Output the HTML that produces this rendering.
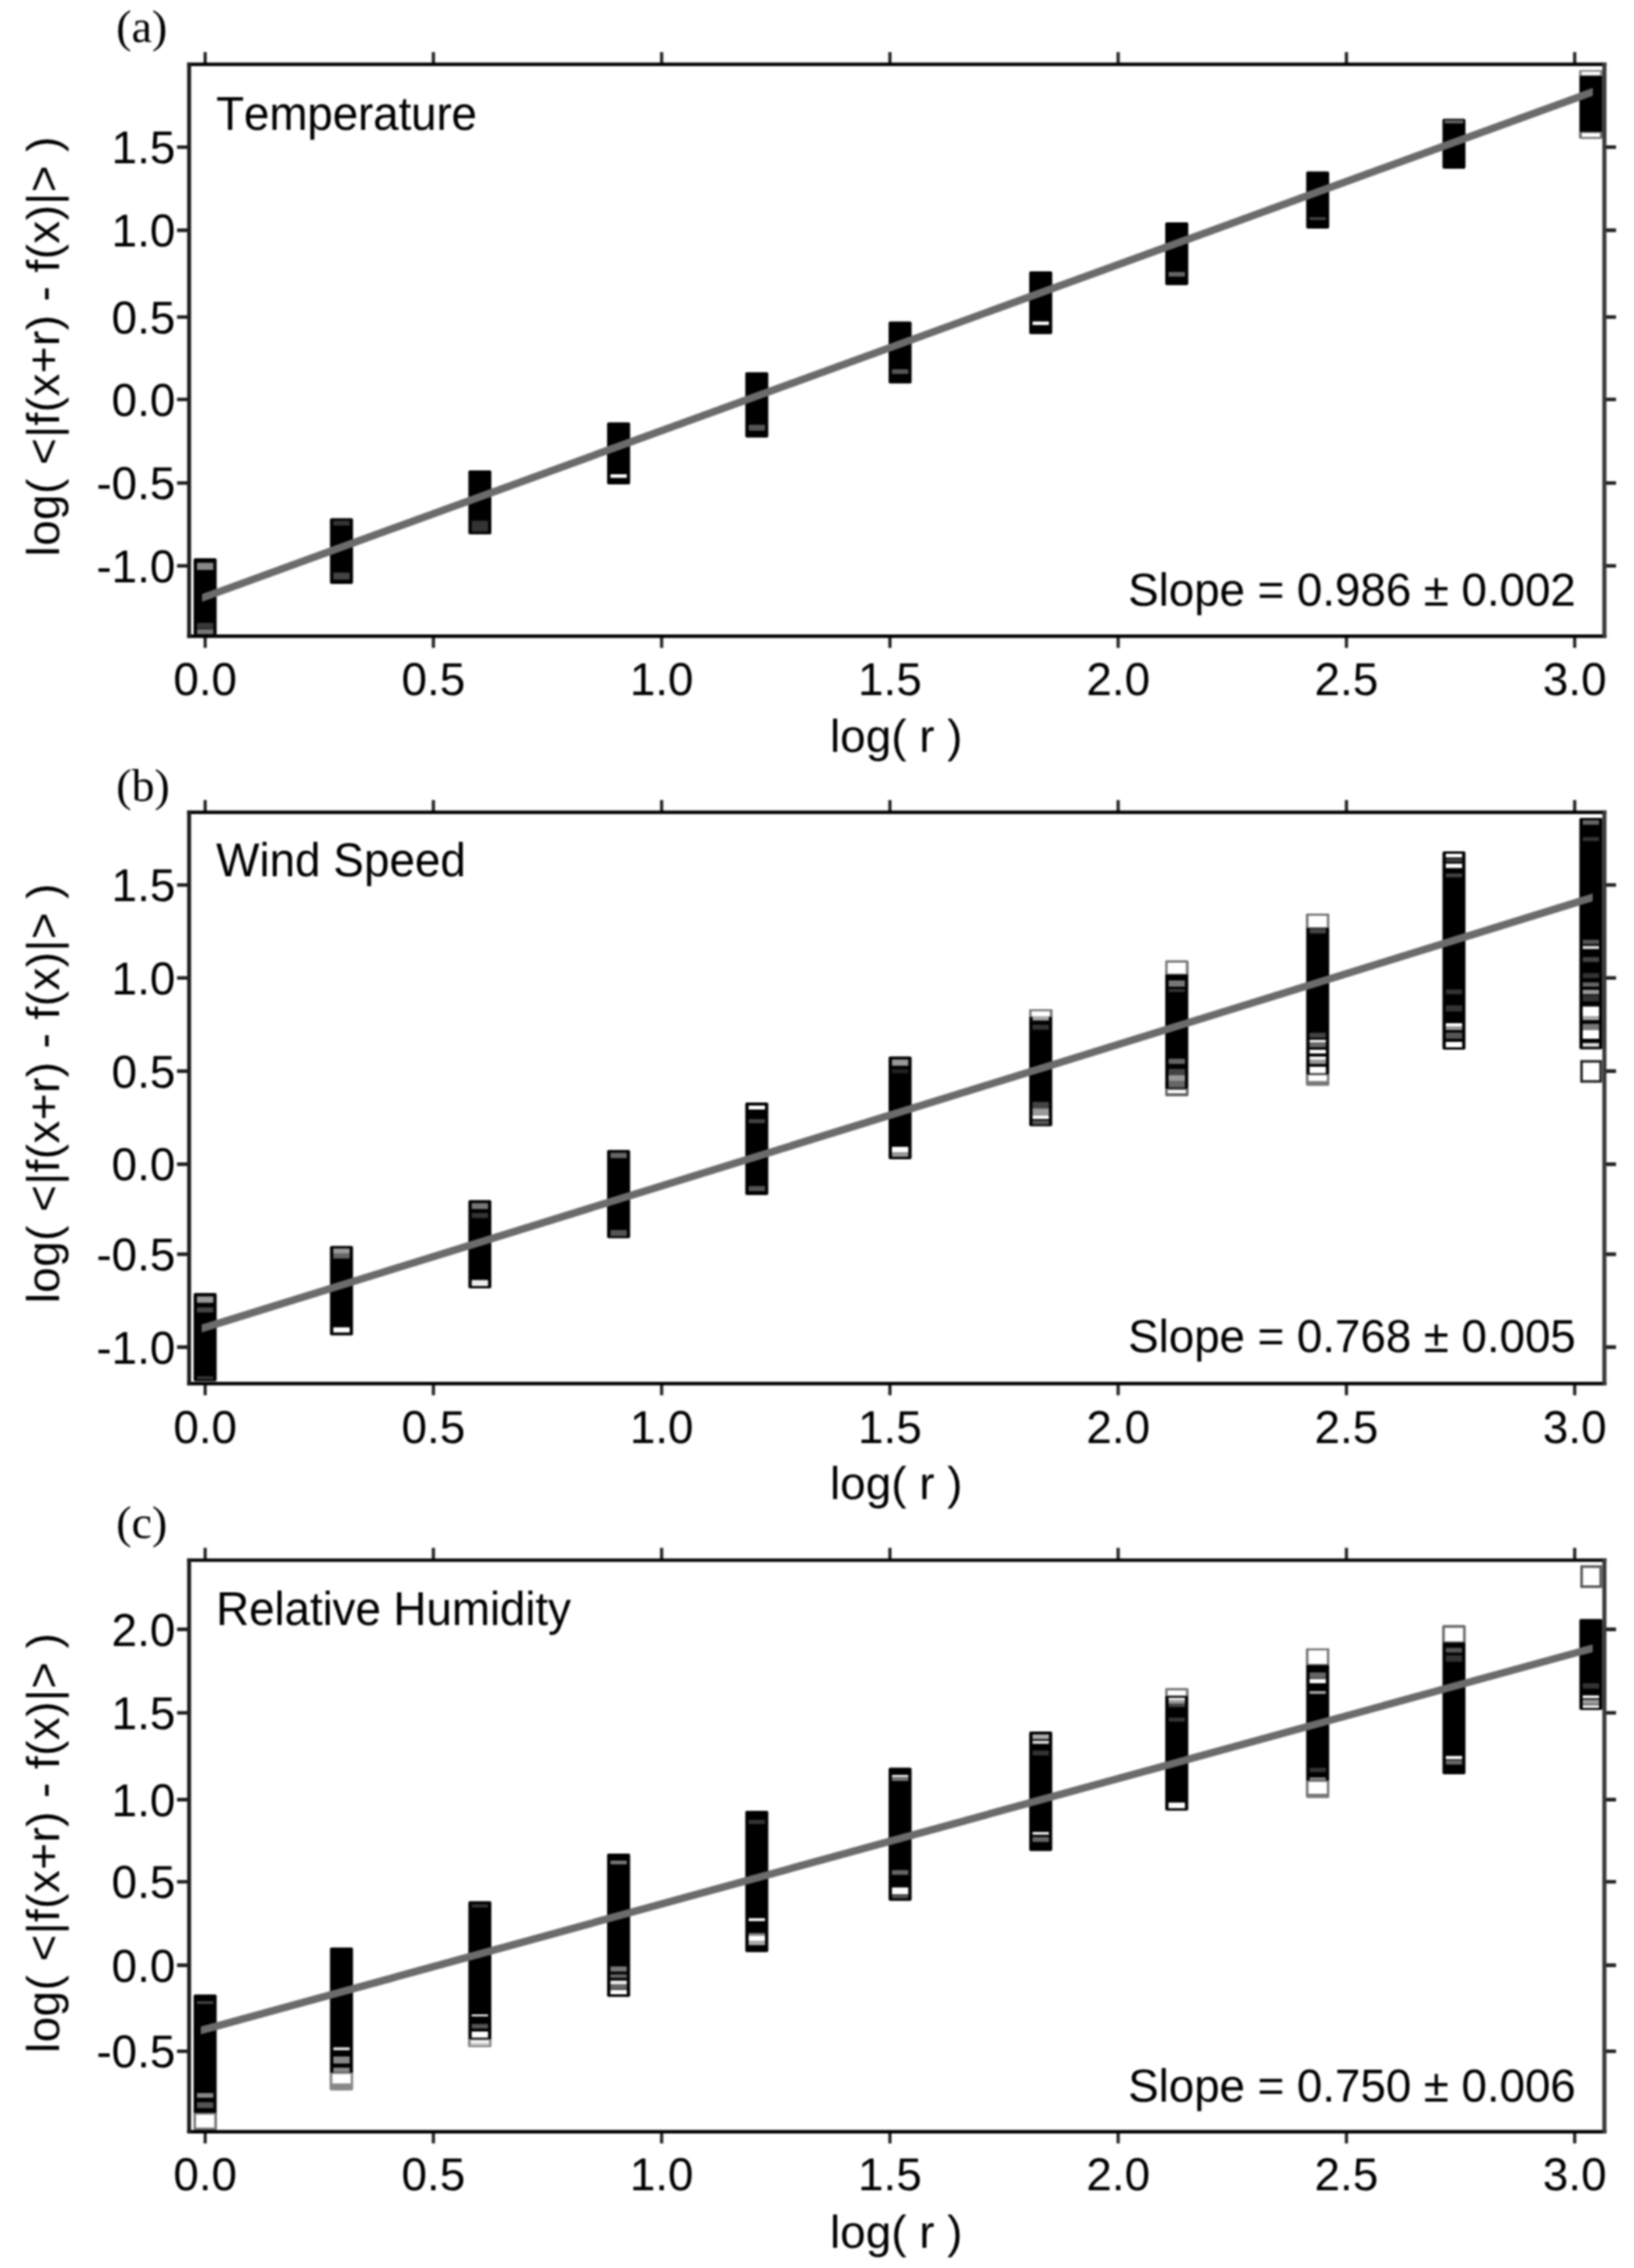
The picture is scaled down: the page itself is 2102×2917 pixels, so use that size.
<!DOCTYPE html>
<html lang="en"><head><meta charset="utf-8"><title>Structure functions: temperature, wind speed, relative humidity</title>
<style>
html,body{margin:0;padding:0;background:#fff;}
body{width:2102px;height:2917px;overflow:hidden;}
svg{display:block;filter:blur(0.9px);}
text{font-kerning:none;font-variant-ligatures:none;text-rendering:geometricPrecision;}
.s{font-family:"Liberation Sans", Arial, Helvetica, sans-serif;font-size:59px;fill:#000;}
.t{font-family:"Liberation Serif", "Times New Roman", Times, serif;font-size:59px;fill:#000;}
.tk{stroke:#262626;stroke-width:4.2;fill:none;}
.fr{stroke:#000;stroke-width:4.4;fill:none;stroke-linejoin:miter;}
.frl{stroke:#1c1c1c;stroke-width:5.1;fill:none;}
.frr{stroke:#363636;stroke-width:5.2;fill:none;}
.th{stroke:#1e1e1e;stroke-width:4.6;fill:none;}
.fit{fill:#6b6b6b;stroke:none;}
.c{fill:#000;}
</style></head><body>
<svg width="2102" height="2917" viewBox="0 0 2102 2917">
<rect width="2102" height="2917" fill="#fff"/>
<g>
<text class="t" x="149.6" y="54">(a)</text>
<g>
<rect class="c" x="249.1" y="718" width="29.6" height="98.4" rx="2"/>
<rect x="253.4" y="723.8" width="21" height="9.2" fill="#888"/>
<rect x="253.4" y="801" width="21" height="7.5" fill="#383838"/>
<rect x="253.4" y="809.3" width="21" height="6.3" fill="#777"/>
<rect class="c" x="424.5" y="666.6" width="29.6" height="84.4" rx="2"/>
<rect x="428.8" y="669.7" width="21" height="6.3" fill="#333"/>
<rect x="428.8" y="736.5" width="21" height="9" fill="#444"/>
<rect class="c" x="602.5" y="605" width="29.6" height="82.2" rx="2"/>
<rect x="606.8" y="669.7" width="21" height="14.1" fill="#333"/>
<rect class="c" x="781" y="543.2" width="29.6" height="79.8" rx="2"/>
<rect x="785.3" y="610" width="21" height="4.6" fill="#fff"/>
<rect class="c" x="958.75" y="478.8" width="29.6" height="84" rx="2"/>
<rect x="963.05" y="546.3" width="21" height="7.6" fill="#555"/>
<rect class="c" x="1143.1" y="413.5" width="29.6" height="79.7" rx="2"/>
<rect x="1147.4" y="474.9" width="21" height="6.1" fill="#555"/>
<rect class="c" x="1324" y="349" width="29.6" height="80.8" rx="2"/>
<rect x="1328.3" y="413.5" width="21" height="4.5" fill="#fff"/>
<rect class="c" x="1499" y="286" width="29.6" height="80.7" rx="2"/>
<rect x="1503.3" y="349.8" width="21" height="5.9" fill="#666"/>
<rect class="c" x="1680.3" y="220.6" width="29.6" height="73.4" rx="2"/>
<rect x="1684.6" y="279.3" width="21" height="3.7" fill="#444"/>
<rect class="c" x="1855.6" y="152.8" width="29.6" height="64.1" rx="2"/>
<rect x="1858.4" y="154.6" width="24" height="4" fill="#666"/>
<rect class="c" x="2031.7" y="90" width="29.6" height="88.2" rx="2"/>
<rect x="2031.7" y="90" width="29.6" height="7.6" fill="#888"/>
<rect x="2034.7" y="92.4" width="23.6" height="4.2" fill="#fff"/>
<rect x="2031.7" y="169.4" width="29.6" height="8.8" fill="#666"/>
<rect x="2034.7" y="171" width="23.6" height="5.2" fill="#fff"/>
</g>
<polygon class="fit" points="260,763.89 2049,113.09 2049,123.31 260,774.11"/>
<path class="tk" d="M263.9 67V82.8M263.9 818.3V833.3M557.53 67V82.8M557.53 818.3V833.3M851.17 67V82.8M851.17 818.3V833.3M1144.8 67V82.8M1144.8 818.3V833.3M1438.44 67V82.8M1438.44 818.3V833.3M1732.07 67V82.8M1732.07 818.3V833.3M2025.71 67V82.8M2025.71 818.3V833.3"/>
<path class="th" d="M227.8 189.3H243.3M2063.9 189.3H2078.9M227.8 296.1H243.3M2063.9 296.1H2078.9M227.8 407.7H243.3M2063.9 407.7H2078.9M227.8 513.8H243.3M2063.9 513.8H2078.9M227.8 621.3H243.3M2063.9 621.3H2078.9M227.8 727.7H243.3M2063.9 727.7H2078.9"/>
<path class="fr" d="M240.8 82.8H2066.4M240.8 818.3H2066.4"/>
<path class="frl" d="M243.3 80.7V820.4"/>
<path class="frr" d="M2063.9 80.7V820.4"/>
<text class="s" text-anchor="end" transform="translate(225.6 210.2) scale(1 1.005)">1.5</text>
<text class="s" text-anchor="end" transform="translate(225.6 317) scale(1 1.005)">1.0</text>
<text class="s" text-anchor="end" transform="translate(225.6 428.6) scale(1 1.005)">0.5</text>
<text class="s" text-anchor="end" transform="translate(225.6 534.7) scale(1 1.005)">0.0</text>
<text class="s" text-anchor="end" transform="translate(225.6 642.2) scale(1 1.005)">-0.5</text>
<text class="s" text-anchor="end" transform="translate(225.6 748.6) scale(1 1.005)">-1.0</text>
<text class="s" text-anchor="middle" transform="translate(263.9 893.7) scale(1 1.005)">0.0</text>
<text class="s" text-anchor="middle" transform="translate(557.53 893.7) scale(1 1.005)">0.5</text>
<text class="s" text-anchor="middle" transform="translate(851.17 893.7) scale(1 1.005)">1.0</text>
<text class="s" text-anchor="middle" transform="translate(1144.8 893.7) scale(1 1.005)">1.5</text>
<text class="s" text-anchor="middle" transform="translate(1438.44 893.7) scale(1 1.005)">2.0</text>
<text class="s" text-anchor="middle" transform="translate(1732.07 893.7) scale(1 1.005)">2.5</text>
<text class="s" text-anchor="middle" transform="translate(2025.71 893.7) scale(1 1.005)">3.0</text>
<text class="s" text-anchor="middle" x="1153" y="967">log( r )</text>
<text class="s" transform="translate(76.3 715.65) rotate(-90)" textLength="540" lengthAdjust="spacing">log( &lt;|f(x+r) - f(x)|&gt; )</text>
<text class="s" transform="translate(278 166.7) scale(1 1.037)" textLength="335.7" lengthAdjust="spacing">Temperature</text>
<text class="s" text-anchor="end" transform="translate(2027.2 778.7) scale(1 1.01)" textLength="575.9" lengthAdjust="spacing">Slope = 0.986 ± 0.002</text>
</g>
<g>
<text class="t" x="149.6" y="1029.5">(b)</text>
<g>
<rect class="c" x="249.1" y="1663" width="29.6" height="113.5" rx="2"/>
<rect x="253.4" y="1667.4" width="21" height="8.2" fill="#999"/>
<rect x="253.4" y="1681.5" width="21" height="6.5" fill="#444"/>
<rect x="253.4" y="1770" width="21" height="4" fill="#333"/>
<rect class="c" x="424.5" y="1602.6" width="29.6" height="114.9" rx="2"/>
<rect x="428.8" y="1605.7" width="21" height="6.3" fill="#999"/>
<rect x="428.8" y="1612" width="21" height="6.6" fill="#666"/>
<rect x="428.8" y="1707.2" width="21" height="6.5" fill="#fff"/>
<rect class="c" x="602.5" y="1543.6" width="29.6" height="113.4" rx="2"/>
<rect x="606.8" y="1547.4" width="21" height="7.6" fill="#777"/>
<rect x="606.8" y="1560" width="21" height="6.6" fill="#333"/>
<rect x="606.8" y="1646.3" width="21" height="7.7" fill="#eee"/>
<rect class="c" x="781" y="1479" width="29.6" height="113.6" rx="2"/>
<rect x="785.3" y="1482.6" width="21" height="6.9" fill="#666"/>
<rect x="785.3" y="1582" width="21" height="7.8" fill="#555"/>
<rect class="c" x="958.75" y="1418" width="29.6" height="119" rx="2"/>
<rect x="963.05" y="1421.9" width="21" height="5.1" fill="#fff"/>
<rect x="963.05" y="1439.4" width="21" height="5.1" fill="#444"/>
<rect x="963.05" y="1525.5" width="21" height="6.5" fill="#555"/>
<rect class="c" x="1143.1" y="1358.7" width="29.6" height="132.3" rx="2"/>
<rect x="1147.4" y="1362.6" width="21" height="8.1" fill="#999"/>
<rect x="1147.4" y="1375" width="21" height="5.4" fill="#222"/>
<rect x="1147.4" y="1475" width="21" height="7.3" fill="#fff"/>
<rect x="1147.4" y="1482.3" width="21" height="5.5" fill="#999"/>
<rect class="c" x="1324" y="1298" width="29.6" height="150.4" rx="2"/>
<rect x="1324" y="1298" width="29.6" height="10" fill="#777"/>
<rect x="1327" y="1300.6" width="23.6" height="6.4" fill="#fff"/>
<rect x="1328.3" y="1307" width="21" height="5.5" fill="#aaa"/>
<rect x="1328.3" y="1318" width="21" height="6.4" fill="#333"/>
<rect x="1328.3" y="1417.2" width="21" height="8.3" fill="#444"/>
<rect x="1328.3" y="1425.5" width="21" height="9.1" fill="#999"/>
<rect x="1328.3" y="1434.6" width="21" height="4.6" fill="#fff"/>
<rect x="1328.3" y="1441" width="21" height="5.5" fill="#555"/>
<rect class="c" x="1499" y="1235.6" width="29.6" height="174.2" rx="2"/>
<rect x="1499" y="1235.6" width="29.6" height="17.8" fill="#777"/>
<rect x="1502" y="1238.2" width="23.6" height="14.2" fill="#fff"/>
<rect x="1499" y="1400" width="29.6" height="9.8" fill="#666"/>
<rect x="1502" y="1402" width="23.6" height="4" fill="#fff"/>
<rect x="1503.3" y="1261" width="21" height="8" fill="#777"/>
<rect x="1503.3" y="1272" width="21" height="4" fill="#333"/>
<rect x="1503.3" y="1361.7" width="21" height="6.7" fill="#666"/>
<rect x="1503.3" y="1374.8" width="21" height="8" fill="#444"/>
<rect x="1503.3" y="1382.8" width="21" height="7.9" fill="#999"/>
<rect x="1503.3" y="1390.7" width="21" height="8" fill="#666"/>
<rect class="c" x="1680.3" y="1175.1" width="29.6" height="221.2" rx="2"/>
<rect x="1680.3" y="1175.1" width="29.6" height="18.3" fill="#777"/>
<rect x="1683.3" y="1177.8" width="23.6" height="14.8" fill="#fff"/>
<rect x="1680.3" y="1381.6" width="29.6" height="14.7" fill="#777"/>
<rect x="1683.3" y="1383" width="23.6" height="7.4" fill="#fff"/>
<rect x="1684.6" y="1194.2" width="21" height="6.4" fill="#444"/>
<rect x="1684.6" y="1328.3" width="21" height="6.4" fill="#444"/>
<rect x="1684.6" y="1337.4" width="21" height="3.2" fill="#fff"/>
<rect x="1684.6" y="1341" width="21" height="6" fill="#666"/>
<rect x="1684.6" y="1350.1" width="21" height="4.8" fill="#fff"/>
<rect x="1684.6" y="1358.9" width="21" height="4" fill="#fff"/>
<rect x="1684.6" y="1362.9" width="21" height="5.5" fill="#999"/>
<rect x="1684.6" y="1372" width="21" height="8.4" fill="#fff"/>
<rect class="c" x="1855.6" y="1094.9" width="29.6" height="255.1" rx="2"/>
<rect x="1859.9" y="1098" width="21" height="4.8" fill="#fff"/>
<rect x="1859.9" y="1104.4" width="21" height="4" fill="#444"/>
<rect x="1859.9" y="1110.8" width="21" height="5.6" fill="#fff"/>
<rect x="1859.9" y="1123.5" width="21" height="4.8" fill="#444"/>
<rect x="1859.9" y="1272.6" width="21" height="6.1" fill="#333"/>
<rect x="1859.9" y="1293" width="21" height="8" fill="#333"/>
<rect x="1859.9" y="1316" width="21" height="4" fill="#fff"/>
<rect x="1859.9" y="1320" width="21" height="4.8" fill="#999"/>
<rect x="1859.9" y="1328" width="21" height="8" fill="#555"/>
<rect x="1859.9" y="1340" width="21" height="7" fill="#fff"/>
<rect class="c" x="2031.7" y="1052" width="29.6" height="297.5" rx="2"/>
<rect x="2036" y="1055" width="21" height="5.7" fill="#666"/>
<rect x="2036" y="1076.6" width="21" height="5.1" fill="#333"/>
<rect x="2036" y="1208.7" width="21" height="5.5" fill="#555"/>
<rect x="2036" y="1216.6" width="21" height="4" fill="#ddd"/>
<rect x="2036" y="1231" width="21" height="6.3" fill="#444"/>
<rect x="2036" y="1251.6" width="21" height="6.4" fill="#333"/>
<rect x="2036" y="1263.5" width="21" height="5.5" fill="#666"/>
<rect x="2036" y="1273" width="21" height="5.7" fill="#999"/>
<rect x="2036" y="1280" width="21" height="8" fill="#333"/>
<rect x="2036" y="1294.6" width="21" height="12.7" fill="#fff"/>
<rect x="2036" y="1307.3" width="21" height="4.7" fill="#aaa"/>
<rect x="2036" y="1316.8" width="21" height="8" fill="#777"/>
<rect x="2036" y="1324.8" width="21" height="11.2" fill="#fff"/>
<rect x="2036" y="1341.5" width="21" height="4.8" fill="#ddd"/>
<rect x="2034.5" y="1365.1" width="24.6" height="25.8" fill="#fff" stroke="#222" stroke-width="3.3"/>
</g>
<polygon class="fit" points="259.5,1703.57 2048.8,1149.17 2048.8,1159.23 259.5,1713.63"/>
<path class="tk" d="M263.9 1028.9V1044.7M263.9 1779.5V1794.5M557.53 1028.9V1044.7M557.53 1779.5V1794.5M851.17 1028.9V1044.7M851.17 1779.5V1794.5M1144.8 1028.9V1044.7M1144.8 1779.5V1794.5M1438.44 1028.9V1044.7M1438.44 1779.5V1794.5M1732.07 1028.9V1044.7M1732.07 1779.5V1794.5M2025.71 1028.9V1044.7M2025.71 1779.5V1794.5"/>
<path class="th" d="M227.8 1138.2H243.3M2063.9 1138.2H2078.9M227.8 1257.8H243.3M2063.9 1257.8H2078.9M227.8 1377.6H243.3M2063.9 1377.6H2078.9M227.8 1497.4H243.3M2063.9 1497.4H2078.9M227.8 1613.1H243.3M2063.9 1613.1H2078.9M227.8 1732.65H243.3M2063.9 1732.65H2078.9"/>
<path class="fr" d="M240.8 1044.7H2066.4M240.8 1779.5H2066.4"/>
<path class="frl" d="M243.3 1042.6V1781.6"/>
<path class="frr" d="M2063.9 1042.6V1781.6"/>
<text class="s" text-anchor="end" transform="translate(225.6 1159.1) scale(1 1.005)">1.5</text>
<text class="s" text-anchor="end" transform="translate(225.6 1278.7) scale(1 1.005)">1.0</text>
<text class="s" text-anchor="end" transform="translate(225.6 1398.5) scale(1 1.005)">0.5</text>
<text class="s" text-anchor="end" transform="translate(225.6 1518.3) scale(1 1.005)">0.0</text>
<text class="s" text-anchor="end" transform="translate(225.6 1634) scale(1 1.005)">-0.5</text>
<text class="s" text-anchor="end" transform="translate(225.6 1753.55) scale(1 1.005)">-1.0</text>
<text class="s" text-anchor="middle" transform="translate(263.9 1856.3) scale(1 1.005)">0.0</text>
<text class="s" text-anchor="middle" transform="translate(557.53 1856.3) scale(1 1.005)">0.5</text>
<text class="s" text-anchor="middle" transform="translate(851.17 1856.3) scale(1 1.005)">1.0</text>
<text class="s" text-anchor="middle" transform="translate(1144.8 1856.3) scale(1 1.005)">1.5</text>
<text class="s" text-anchor="middle" transform="translate(1438.44 1856.3) scale(1 1.005)">2.0</text>
<text class="s" text-anchor="middle" transform="translate(1732.07 1856.3) scale(1 1.005)">2.5</text>
<text class="s" text-anchor="middle" transform="translate(2025.71 1856.3) scale(1 1.005)">3.0</text>
<text class="s" text-anchor="middle" x="1153" y="1927.6">log( r )</text>
<text class="s" transform="translate(76.3 1676.35) rotate(-90)" textLength="540" lengthAdjust="spacing">log( &lt;|f(x+r) - f(x)|&gt; )</text>
<text class="s" transform="translate(278 1126.8) scale(1 1.037)">Wind Speed</text>
<text class="s" text-anchor="end" transform="translate(2027.2 1738.6) scale(1 1.01)" textLength="575.9" lengthAdjust="spacing">Slope = 0.768 ± 0.005</text>
</g>
<g>
<text class="t" x="149.6" y="1977.8">(c)</text>
<g>
<rect class="c" x="249.1" y="2565.2" width="29.6" height="174.5" rx="2"/>
<rect x="253.4" y="2574" width="21" height="3.4" fill="#444"/>
<rect x="253.4" y="2692" width="21" height="6" fill="#888"/>
<rect x="253.4" y="2703.8" width="21" height="7.4" fill="#555"/>
<rect x="249.1" y="2717.4" width="29.6" height="22.3" fill="#777"/>
<rect x="252.1" y="2719.6" width="23.6" height="16.8" fill="#fff"/>
<rect class="c" x="424.5" y="2504.8" width="29.6" height="183.5" rx="2"/>
<rect x="428.8" y="2633.2" width="21" height="3.8" fill="#ddd"/>
<rect x="428.8" y="2645" width="21" height="9" fill="#888"/>
<rect x="428.8" y="2659.3" width="21" height="6.2" fill="#888"/>
<rect x="424.5" y="2665.8" width="29.6" height="22.5" fill="#888"/>
<rect x="427.5" y="2667.4" width="23.6" height="12.2" fill="#fff"/>
<rect class="c" x="602.5" y="2445.2" width="29.6" height="187.8" rx="2"/>
<rect x="606.8" y="2449.2" width="21" height="4.1" fill="#333"/>
<rect x="606.8" y="2590.9" width="21" height="2.4" fill="#fff"/>
<rect x="606.8" y="2603.1" width="21" height="5.9" fill="#555"/>
<rect x="606.8" y="2612.9" width="21" height="7.8" fill="#fff"/>
<rect x="602.5" y="2622.6" width="29.6" height="10.4" fill="#888"/>
<rect x="605.5" y="2624.4" width="23.6" height="3.4" fill="#fff"/>
<rect x="605.5" y="2627.8" width="23.6" height="2.8" fill="#ccc"/>
<rect class="c" x="781" y="2384" width="29.6" height="184.3" rx="2"/>
<rect x="785.3" y="2393" width="21" height="4.8" fill="#777"/>
<rect x="785.3" y="2529.2" width="21" height="6.5" fill="#777"/>
<rect x="785.3" y="2539.3" width="21" height="4.5" fill="#666"/>
<rect x="785.3" y="2547.4" width="21" height="4.6" fill="#eee"/>
<rect x="785.3" y="2552" width="21" height="6.5" fill="#666"/>
<rect x="785.3" y="2559.3" width="21" height="5.7" fill="#fff"/>
<rect class="c" x="958.75" y="2328.9" width="29.6" height="181.9" rx="2"/>
<rect x="963.05" y="2340.6" width="21" height="5.4" fill="#333"/>
<rect x="963.05" y="2467.2" width="21" height="3.6" fill="#fff"/>
<rect x="963.05" y="2486.3" width="21" height="3.3" fill="#888"/>
<rect x="963.05" y="2489.6" width="21" height="6.4" fill="#fff"/>
<rect x="963.05" y="2496" width="21" height="5.8" fill="#aaa"/>
<rect class="c" x="1143.1" y="2273.4" width="29.6" height="171.3" rx="2"/>
<rect x="1147.4" y="2282.9" width="21" height="2.7" fill="#fff"/>
<rect x="1147.4" y="2285.6" width="21" height="4.9" fill="#777"/>
<rect x="1147.4" y="2405.2" width="21" height="6.1" fill="#666"/>
<rect x="1147.4" y="2427.6" width="21" height="8.9" fill="#fff"/>
<rect x="1147.4" y="2437.4" width="21" height="4" fill="#555"/>
<rect class="c" x="1324" y="2227.1" width="29.6" height="153.6" rx="2"/>
<rect x="1328.3" y="2230.7" width="21" height="6" fill="#aaa"/>
<rect x="1328.3" y="2238.8" width="21" height="4" fill="#ddd"/>
<rect x="1328.3" y="2251.5" width="21" height="6.3" fill="#333"/>
<rect x="1328.3" y="2356.3" width="21" height="3.3" fill="#fff"/>
<rect x="1328.3" y="2362.7" width="21" height="6.3" fill="#666"/>
<rect class="c" x="1499" y="2171.4" width="29.6" height="157.3" rx="2"/>
<rect x="1499" y="2171.4" width="29.6" height="10" fill="#777"/>
<rect x="1502" y="2174.2" width="23.6" height="6.4" fill="#fff"/>
<rect x="1503.3" y="2183.7" width="21" height="3.1" fill="#fff"/>
<rect x="1503.3" y="2186.8" width="21" height="4.2" fill="#999"/>
<rect x="1503.3" y="2191" width="21" height="4.5" fill="#444"/>
<rect x="1503.3" y="2209" width="21" height="5.4" fill="#333"/>
<rect x="1503.3" y="2318.4" width="21" height="7.2" fill="#fff"/>
<rect class="c" x="1680.3" y="2120" width="29.6" height="192.2" rx="2"/>
<rect x="1680.3" y="2120" width="29.6" height="21.6" fill="#777"/>
<rect x="1683.3" y="2122.6" width="23.6" height="17.4" fill="#fff"/>
<rect x="1680.3" y="2290" width="29.6" height="22.2" fill="#777"/>
<rect x="1683.3" y="2291.8" width="23.6" height="15.2" fill="#fff"/>
<rect x="1684.6" y="2151" width="21" height="7.5" fill="#666"/>
<rect x="1684.6" y="2159.4" width="21" height="5.5" fill="#fff"/>
<rect x="1684.6" y="2175" width="21" height="3.6" fill="#aaa"/>
<rect x="1684.6" y="2273.6" width="21" height="5.6" fill="#333"/>
<rect x="1684.6" y="2286" width="21" height="3.6" fill="#888"/>
<rect class="c" x="1855.6" y="2090.5" width="29.6" height="191.4" rx="2"/>
<rect x="1855.6" y="2090.5" width="29.6" height="22.1" fill="#666"/>
<rect x="1858.6" y="2093.6" width="23.6" height="17.6" fill="#fff"/>
<rect x="1859.9" y="2119.4" width="21" height="6.1" fill="#555"/>
<rect x="1859.9" y="2129" width="21" height="8.3" fill="#333"/>
<rect x="1859.9" y="2258.5" width="21" height="4.1" fill="#fff"/>
<rect x="1859.9" y="2264" width="21" height="5.5" fill="#666"/>
<rect class="c" x="2031.7" y="2082.3" width="29.6" height="117" rx="2"/>
<rect x="2036" y="2164.9" width="21" height="6.9" fill="#333"/>
<rect x="2036" y="2180.6" width="21" height="3.6" fill="#fff"/>
<rect x="2036" y="2186" width="21" height="6.4" fill="#999"/>
<rect x="2036" y="2193.2" width="21" height="3.4" fill="#fff"/>
<rect x="2034.6" y="2014.9" width="24.6" height="25.8" fill="#fff" stroke="#555" stroke-width="3.3"/>
</g>
<polygon class="fit" points="258.3,2606.62 2048.8,2114.92 2048.8,2124.88 258.3,2616.58"/>
<path class="tk" d="M263.9 1990.8V2006.6M263.9 2741.7V2756.7M557.53 1990.8V2006.6M557.53 2741.7V2756.7M851.17 1990.8V2006.6M851.17 2741.7V2756.7M1144.8 1990.8V2006.6M1144.8 2741.7V2756.7M1438.44 1990.8V2006.6M1438.44 2741.7V2756.7M1732.07 1990.8V2006.6M1732.07 2741.7V2756.7M2025.71 1990.8V2006.6M2025.71 2741.7V2756.7"/>
<path class="th" d="M227.8 2095.6H243.3M2063.9 2095.6H2078.9M227.8 2203H243.3M2063.9 2203H2078.9M227.8 2314.6H243.3M2063.9 2314.6H2078.9M227.8 2420.2H243.3M2063.9 2420.2H2078.9M227.8 2527.6H243.3M2063.9 2527.6H2078.9M227.8 2638.2H243.3M2063.9 2638.2H2078.9"/>
<path class="fr" d="M240.8 2006.6H2066.4M240.8 2741.7H2066.4"/>
<path class="frl" d="M243.3 2004.5V2743.8"/>
<path class="frr" d="M2063.9 2004.5V2743.8"/>
<text class="s" text-anchor="end" transform="translate(225.6 2116.5) scale(1 1.005)">2.0</text>
<text class="s" text-anchor="end" transform="translate(225.6 2223.9) scale(1 1.005)">1.5</text>
<text class="s" text-anchor="end" transform="translate(225.6 2335.5) scale(1 1.005)">1.0</text>
<text class="s" text-anchor="end" transform="translate(225.6 2441.1) scale(1 1.005)">0.5</text>
<text class="s" text-anchor="end" transform="translate(225.6 2548.5) scale(1 1.005)">0.0</text>
<text class="s" text-anchor="end" transform="translate(225.6 2659.1) scale(1 1.005)">-0.5</text>
<text class="s" text-anchor="middle" transform="translate(263.9 2817.4) scale(1 1.005)">0.0</text>
<text class="s" text-anchor="middle" transform="translate(557.53 2817.4) scale(1 1.005)">0.5</text>
<text class="s" text-anchor="middle" transform="translate(851.17 2817.4) scale(1 1.005)">1.0</text>
<text class="s" text-anchor="middle" transform="translate(1144.8 2817.4) scale(1 1.005)">1.5</text>
<text class="s" text-anchor="middle" transform="translate(1438.44 2817.4) scale(1 1.005)">2.0</text>
<text class="s" text-anchor="middle" transform="translate(1732.07 2817.4) scale(1 1.005)">2.5</text>
<text class="s" text-anchor="middle" transform="translate(2025.71 2817.4) scale(1 1.005)">3.0</text>
<text class="s" text-anchor="middle" x="1153" y="2891.4">log( r )</text>
<text class="s" transform="translate(76.3 2640.4) rotate(-90)" textLength="540" lengthAdjust="spacing">log( &lt;|f(x+r) - f(x)|&gt; )</text>
<text class="s" transform="translate(278 2090.1) scale(1 1.037)" textLength="456.4" lengthAdjust="spacing">Relative Humidity</text>
<text class="s" text-anchor="end" transform="translate(2027.2 2702.6) scale(1 1.01)" textLength="575.9" lengthAdjust="spacing">Slope = 0.750 ± 0.006</text>
</g>
</svg></body></html>
